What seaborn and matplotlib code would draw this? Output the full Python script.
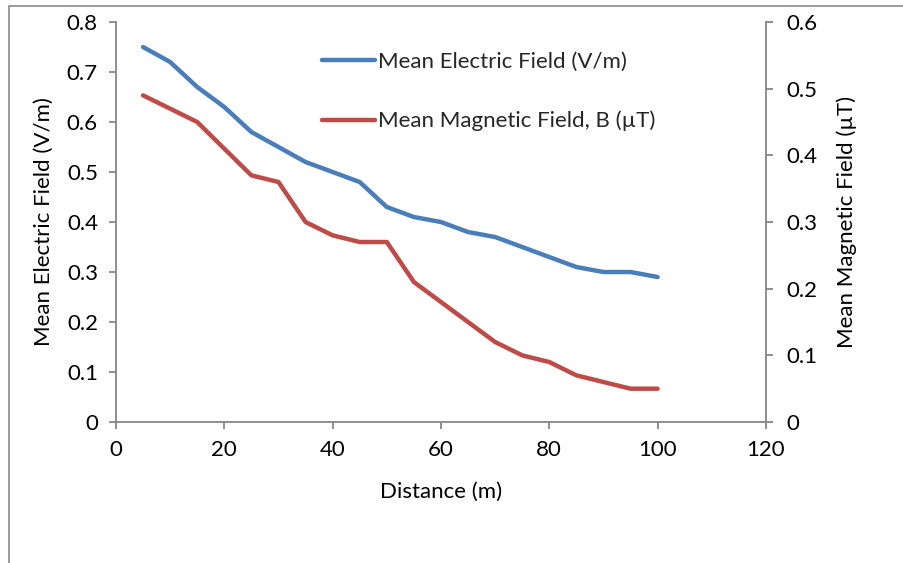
import matplotlib.pyplot as plt
import matplotlib.patches as mpatches
import seaborn as sns
import pandas as pd

distance = [5, 10, 15, 20, 25, 30, 35, 40, 45, 50, 55, 60, 65, 70, 75, 80, 85, 90, 95, 100]
electric = [0.75, 0.72, 0.67, 0.63, 0.58, 0.55, 0.52, 0.50, 0.48, 0.43,
            0.41, 0.40, 0.38, 0.37, 0.35, 0.33, 0.31, 0.30, 0.30, 0.29]
magnetic = [0.49, 0.47, 0.45, 0.41, 0.37, 0.36, 0.30, 0.28, 0.27, 0.27,
            0.21, 0.18, 0.15, 0.12, 0.10, 0.09, 0.07, 0.06, 0.05, 0.05]

e_label = "Mean Electric Field (V/m)"
b_label = "Mean Magnetic Field, B (\u00b5T)"

df = pd.DataFrame({"distance": distance, "electric": electric, "magnetic": magnetic})

sns.set_theme(style="white")
plt.rcParams['font.family'] = ['Lato', 'DejaVu Sans']

grey = '#868686'
fs = 16

fig = plt.figure(figsize=(9.04, 5.63), dpi=100)
ax = fig.add_axes([0.1283, 0.2504, 0.719, 0.7105])
ax2 = ax.twinx()

sns.lineplot(data=df, x="distance", y="electric", ax=ax, color='#4A7EBB',
             linewidth=3.2, label=e_label, solid_capstyle='round', solid_joinstyle='round')
sns.lineplot(data=df, x="distance", y="magnetic", ax=ax2, color='#BE4B48',
             linewidth=3.2, label=b_label, solid_capstyle='round', solid_joinstyle='round')

ax.set_xlim(0, 120)
ax.set_ylim(0, 0.8)
ax2.set_ylim(0, 0.6)
ax.set_xticks(range(0, 121, 20))
ax.set_yticks([i / 10 for i in range(9)])
ax2.set_yticks([i / 10 for i in range(7)])
ax.set_yticklabels(["0"] + [f"{i / 10:.1f}" for i in range(1, 9)])
ax2.set_yticklabels(["0"] + [f"{i / 10:.1f}" for i in range(1, 7)])

ax.set_xlabel("Distance (m)", fontsize=fs, color='black', labelpad=16)
ax.set_ylabel("Mean Electric Field (V/m)", fontsize=fs, color='black', labelpad=9)
ax2.set_ylabel("Mean Magnetic Field (\u00b5T)", fontsize=fs, color='black', labelpad=13)

for a in (ax, ax2):
    for s in a.spines.values():
        s.set_visible(False)
    a.tick_params(axis='both', which='major', labelsize=fs, colors=grey,
                  labelcolor='black', length=5, width=1.3, direction='out')
    a.grid(False)

ax.tick_params(axis='y', left=True, right=False, pad=8)
ax.tick_params(axis='x', bottom=True, pad=8)
ax2.tick_params(axis='y', right=True, left=False, pad=10)

ax.spines['left'].set_visible(True)
ax.spines['bottom'].set_visible(True)
ax2.spines['right'].set_visible(True)
for s in (ax.spines['left'], ax.spines['bottom'], ax2.spines['right']):
    s.set_color(grey)
    s.set_linewidth(1.3)

ax2.get_legend().remove()
h1, l1 = ax.get_legend_handles_labels()
h2, l2 = ax2.get_legend_handles_labels()
ax.legend(h1 + h2, l1 + l2, loc='upper left', bbox_to_anchor=(0.317, 0.925),
          frameon=False, fontsize=fs, borderpad=0, borderaxespad=0,
          labelspacing=1.75, handlelength=2.4, handletextpad=0.1)

fig.patches.append(mpatches.Rectangle((0.0105, -0.2), 1.2, 1.2 - 0.0107,
                                      transform=fig.transFigure, fill=False,
                                      edgecolor='#8C8C8C', linewidth=1.2, figure=fig))

fig.savefig("out.png", dpi=100)
